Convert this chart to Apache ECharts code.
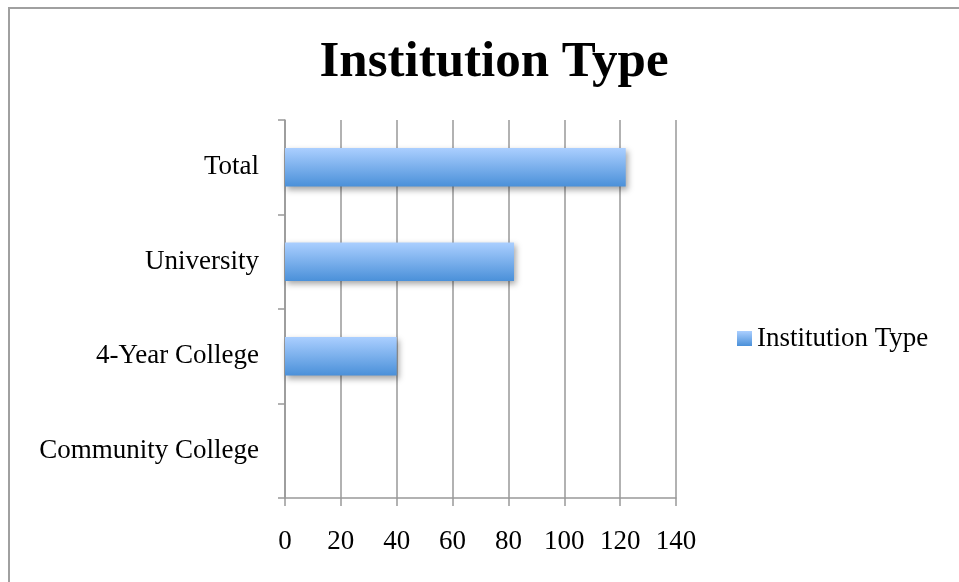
<!DOCTYPE html>
<html>
<head>
<meta charset="utf-8">
<script src="https://cdn.jsdelivr.net/npm/echarts@6/dist/echarts.min.js"></script>
<style>
  html, body { margin: 0; padding: 0; background: #fff; }
  #frame { position: absolute; left: 8px; top: 7px; right: -4px; bottom: -4px;
           border-top: 2px solid #a0a0a0; border-left: 2px solid #a0a0a0; }
  #main { position: absolute; left: 0; top: 0; width: 959px; height: 582px; }
</style>
</head>
<body>
<div id="frame"></div>
<div id="main"></div>
<script>
// data
var categories = ['Community College', '4-Year College', 'University', 'Total'];
var counts = [0, 40, 82, 122];
var seriesName = 'Institution Type';
var axisMax = 140;
var axisStep = 20;

var serif = '"Liberation Serif", "DejaVu Serif", serif';
var barFill = new echarts.graphic.LinearGradient(0, 0, 0, 1, [
  { offset: 0, color: '#abcfff' },
  { offset: 1, color: '#4a90d9' }
]);

var chart = echarts.init(document.getElementById('main'));
var option = {
  animation: false,
  title: {
    text: 'Institution Type',
    left: 489, top: 32, textAlign: 'center',
    textStyle: { fontFamily: serif, fontWeight: 'bold', fontSize: 51, color: '#000' }
  },
  legend: {
    data: [seriesName],
    left: 732, top: 320,
    itemWidth: 15, itemHeight: 15, itemGap: 5,
    icon: 'rect',
    textStyle: { fontFamily: serif, fontSize: 27, color: '#000', padding: [0, 0, 0, 0] }
  },
  grid: { left: 285, right: 283, top: 120, bottom: 84 },
  xAxis: {
    type: 'value', min: 0, max: axisMax, interval: axisStep,
    axisLine: { show: true, lineStyle: { color: '#999', width: 1.5 } },
    axisTick: { show: true, length: 8, lineStyle: { color: '#999', width: 1.5 } },
    splitLine: { show: true, lineStyle: { color: '#999', width: 1.5 } },
    axisLabel: { fontFamily: serif, fontSize: 27, color: '#000', margin: 30 }
  },
  yAxis: {
    type: 'category', data: categories,
    axisLine: { show: true, lineStyle: { color: '#999', width: 1.5 } },
    axisTick: { show: true, length: 7, lineStyle: { color: '#999', width: 1.5 } },
    axisLabel: { fontFamily: serif, fontSize: 27, color: '#000', margin: 26 }
  },
  series: [{
    name: seriesName,
    type: 'bar',
    data: counts,
    barWidth: '41%',
    itemStyle: {
      color: barFill,
      shadowColor: 'rgba(0,0,0,0.35)', shadowBlur: 6, shadowOffsetX: 2, shadowOffsetY: 3
    }
  }]
};
chart.setOption(option);
window.onresize = function () { chart.resize(); };
</script>
</body>
</html>
